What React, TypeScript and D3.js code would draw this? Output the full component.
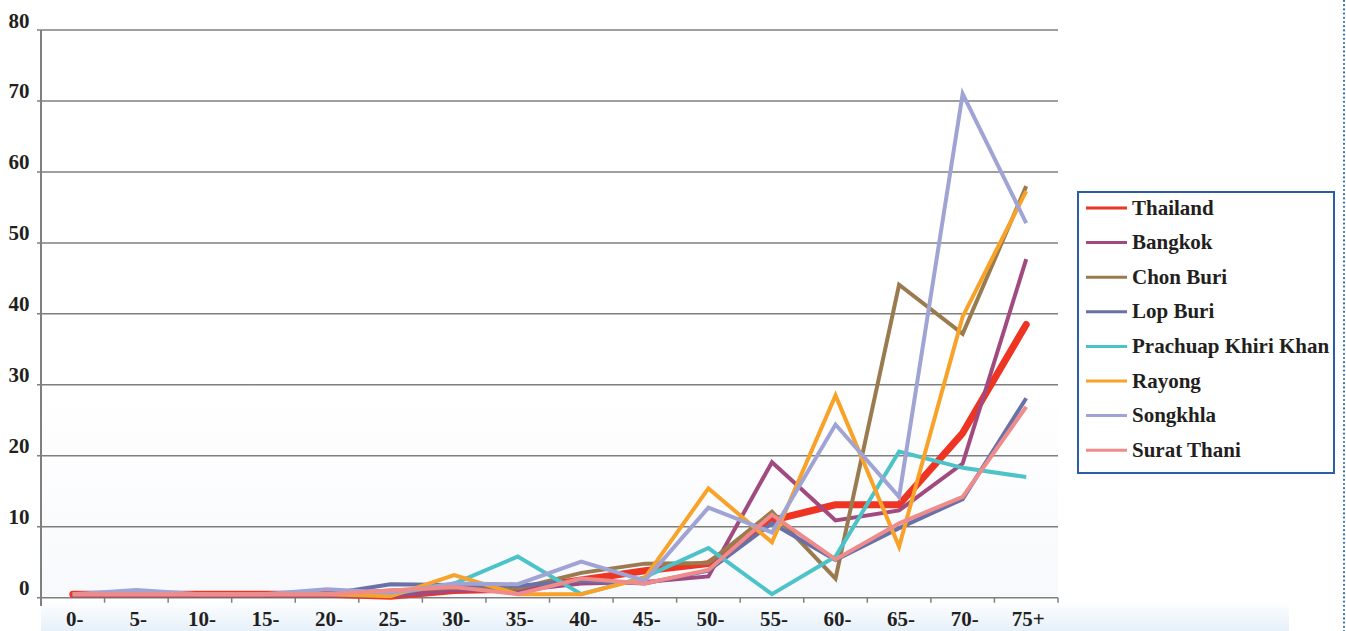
import React, { useEffect } from "react";
import * as d3 from "d3";

const categories = ["0-", "5-", "10-", "15-", "20-", "25-", "30-", "35-", "40-", "45-", "50-", "55-", "60-", "65-", "70-", "75+"];
const yTicks = [0, 10, 20, 30, 40, 50, 60, 70, 80];

const thailand = [0.5, 0.5, 0.5, 0.5, 0.5, 0.2, 1.0, 1.2, 2.5, 3.8, 4.8, 10.9, 13.1, 13.1, 23.2, 38.5];
const bangkok = [0.3, 0.3, 0.3, 0.3, 0.3, 0.2, 1.0, 1.0, 2.0, 2.2, 3.0, 19.1, 10.9, 12.3, 18.9, 47.7];
const chonBuri = [0.5, 0.5, 0.5, 0.5, 0.5, 1.0, 1.4, 1.3, 3.5, 4.8, 4.9, 12.1, 2.7, 44.1, 37.2, 58.0];
const lopBuri = [0.5, 0.5, 0.5, 0.5, 0.5, 1.9, 1.8, 1.7, 2.4, 2.0, 3.8, 10.5, 5.3, 9.8, 13.9, 28.1];
const prachuap = [0.5, 0.5, 0.5, 0.5, 0.5, 0.5, 2.0, 5.8, 0.5, 2.9, 7.0, 0.5, 5.8, 20.6, 18.3, 17.0];
const rayong = [0.5, 0.5, 0.5, 0.5, 0.5, 0.2, 3.2, 0.5, 0.5, 2.8, 15.4, 7.8, 28.5, 7.2, 39.6, 57.3];
const songkhla = [0.5, 1.1, 0.5, 0.5, 1.2, 0.7, 2.0, 1.9, 5.1, 2.4, 12.7, 9.2, 24.4, 14.2, 71.0, 52.8];
const suratThani = [0.5, 0.5, 0.5, 0.5, 0.5, 1.0, 1.5, 0.5, 2.7, 2.0, 3.9, 11.7, 5.4, 10.5, 14.2, 26.9];

const seriesNames = ["Thailand", "Bangkok", "Chon Buri", "Lop Buri", "Prachuap Khiri Khan", "Rayong", "Songkhla", "Surat Thani"];
const seriesValues = [thailand, bangkok, chonBuri, lopBuri, prachuap, rayong, songkhla, suratThani];
const seriesColors = ["#ee3524", "#a04a7f", "#9a7b4f", "#6a70a8", "#4cc3c8", "#f9a229", "#a0a4d4", "#f08b8b"];
const seriesWidths = [7, 4, 4, 4, 4, 4, 4, 4];

const W = 1346;
const H = 631;
const FONT = "'Liberation Serif', 'Times New Roman', serif";

export default function App() {
  useEffect(() => {
    document.body.style.margin = "0";
  }, []);

  const x = d3.scaleBand<string>().domain(categories).range([41, 1058]).padding(0);
  const y = d3.scaleLinear().domain([0, 80]).range([597.7, 30]);
  const cx = (c: string) => (x(c) as number) + x.bandwidth() / 2;

  const line = d3
    .line<number>()
    .x((_, i) => cx(categories[i]))
    .y((d) => y(d));

  const dots = d3.range(0, H, 4.2);
  const tickPositions = categories.map((c) => x(c) as number).concat([1058]).slice(1);

  return (
    <svg width={W} height={H} style={{ position: "fixed", left: 0, top: 0, background: "#fff" }}>
      <defs>
        <linearGradient id="bottomBand" x1="0" y1="0" x2="0" y2="1">
          <stop offset="0" stopColor="#ffffff" />
          <stop offset="1" stopColor="#e6f0f9" />
        </linearGradient>
        <linearGradient id="plotFade" x1="0" y1="0" x2="0" y2="1">
          <stop offset="0" stopColor="#ffffff" />
          <stop offset="1" stopColor="#f8f9fc" />
        </linearGradient>
      </defs>
      <rect x={0} y={0} width={W} height={H} fill="#fff" />
      <rect x={41} y={380} width={1017} height={218} fill="url(#plotFade)" />
      <rect x={41} y={600} width={1248} height={31} fill="url(#bottomBand)" />

      {yTicks.map((t) => (
        <line key={"g" + t} x1={37} x2={1058} y1={y(t)} y2={y(t)} stroke="#7f7f7f" strokeWidth={1.5} />
      ))}
      <line x1={41} x2={41} y1={y(80)} y2={606} stroke="#7f7f7f" strokeWidth={2} />
      {tickPositions.map((p, i) => (
        <line key={"t" + i} x1={p} x2={p} y1={y(0)} y2={y(0) + 5} stroke="#7f7f7f" strokeWidth={1.5} />
      ))}

      {yTicks.map((t) => (
        <text key={"yl" + t} x={29.5} y={y(t) - 2.5} textAnchor="end" fontFamily={FONT} fontWeight="bold" fontSize={21} fill="#231f20">
          {t}
        </text>
      ))}
      {categories.map((c) => (
        <text key={"xl" + c} x={cx(c) + 2} y={626} textAnchor="middle" fontFamily={FONT} fontWeight="bold" fontSize={21} fill="#231f20">
          {c}
        </text>
      ))}

      {seriesValues.map((vals, i) => (
        <path
          key={seriesNames[i]}
          d={line(vals) || ""}
          fill="none"
          stroke={seriesColors[i]}
          strokeWidth={seriesWidths[i]}
          strokeLinejoin={i === 0 ? "round" : "miter"}
          strokeLinecap={i === 0 ? "round" : "butt"}
        />
      ))}

      <rect x={1078} y={192} width={256} height={281} fill="#fff" stroke="#2a5fa8" strokeWidth={2} />
      {seriesNames.map((n, i) => {
        const ly = 208 + i * 34.6;
        return (
          <g key={"lg" + n}>
            <line x1={1086} x2={1127} y1={ly} y2={ly} stroke={seriesColors[i]} strokeWidth={3} />
            <text x={1132} y={ly + 6.5} fontFamily={FONT} fontWeight="bold" fontSize={21} fill="#231f20">
              {n}
            </text>
          </g>
        );
      })}

      {dots.map((d, i) => (
        <circle key={"d" + i} cx={1344} cy={d + 1} r={1.1} fill="#2f6db5" />
      ))}
    </svg>
  );
}
